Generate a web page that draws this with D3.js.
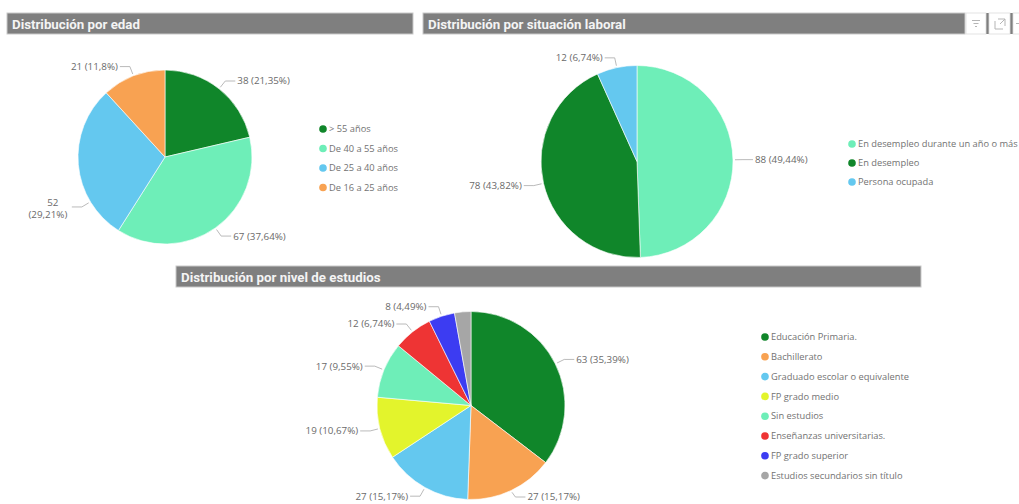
<!DOCTYPE html>
<html>
<head>
<meta charset="utf-8">
<script src="https://cdnjs.cloudflare.com/ajax/libs/d3/7.8.5/d3.min.js"></script>
<style>
  html, body { margin: 0; padding: 0; background: #ffffff; }
  svg { display: block; }
</style>
</head>
<body>
<script>
// data
var ageCategories = ["> 55 años", "De 40 a 55 años", "De 25 a 40 años", "De 16 a 25 años"];
var ageValues = [38, 67, 52, 21];
var ageColors = ["#10862a", "#6eeeb8", "#64c8ef", "#f8a252"];

var laborCategories = ["En desempleo durante un año o más", "En desempleo", "Persona ocupada"];
var laborValues = [88, 78, 12];
var laborColors = ["#6eeeb8", "#10862a", "#64c8ef"];

var studyCategories = ["Educación Primaria.", "Bachillerato", "Graduado escolar o equivalente",
    "FP grado medio", "Sin estudios", "Enseñanzas universitarias.", "FP grado superior",
    "Estudios secundarios sin título"];
var studyValues = [63, 27, 27, 19, 17, 12, 8, 5];
var studyColors = ["#10862a", "#f8a252", "#64c8ef", "#e3f42c", "#6eeeb8", "#ee3434", "#3c3cf2", "#a6a6a6"];

const W = 1019, H = 504;
const LABEL_FONT = "'Open Sans', sans-serif";

var svg = d3.select("body").append("svg")
    .attr("width", W)
    .attr("height", H)
    .attr("font-family", LABEL_FONT);

function titleBar(x, y, w, text){
    var g = svg.append("g").attr("transform", "translate(" + x + "," + y + ")");
    g.append("rect")
        .attr("width", w).attr("height", 21)
        .attr("fill", "#7f7f7f")
        .attr("stroke", "#c9c9c9")
        .attr("stroke-width", 1);
    g.append("text")
        .attr("x", 5).attr("y", 15.5)
        .attr("font-family", "Roboto, sans-serif")
        .attr("font-weight", "bold")
        .attr("font-size", "13.3px")
        .attr("fill", "#f4f4f4")
        .text(text);
}

function formatPct(v){
    var s = d3.format(".2f")(v).replace(/0+$/, "").replace(/\.$/, "");
    return s.replace(".", ",") + "%";
}

// draws one pie with its leader-line labels and legend
function drawPie(opts){
    var values = opts.values, total = d3.sum(values);
    var items = values.map(function(v, i){
        return { name: opts.categories[i], value: v, color: opts.colors[i], i: i };
    });

    var pie = d3.pie().sort(null).value(function(d){ return d.value; });
    var arc = d3.arc().innerRadius(0).outerRadius(opts.r);
    var arcs = pie(items);

    var g = svg.append("g")
        .attr("transform", "translate(" + opts.cx + "," + opts.cy + ")");

    g.selectAll("path.slice")
        .data(arcs)
        .enter().append("path")
            .attr("class", "slice")
            .attr("d", arc)
            .attr("fill", function(d){ return d.data.color; })
            .attr("stroke", "#ffffff")
            .attr("stroke-width", 0.6);

    // tiny slices get no label, like the original
    var labels = arcs.filter(function(d){ return d.data.value / total >= 0.03; });
    var over = opts.labelAngle || {};
    var maxY = H - 7 - opts.cy;

    var lab = g.selectAll("g.label")
        .data(labels)
        .enter().append("g")
            .attr("class", "label");

    lab.each(function(d){
        var a = over[d.data.i] !== undefined ? over[d.data.i] * Math.PI / 180 : (d.startAngle + d.endAngle) / 2;
        var sx = Math.sin(a), sy = -Math.cos(a);
        var right = sx >= 0;
        var r1 = opts.r + 2, r2 = opts.r + 10;
        var p1 = [sx * r1, sy * r1], p2 = [sx * r2, Math.min(sy * r2, maxY)];
        var p3 = [p2[0] + (right ? 10 : -10), p2[1]];
        var sel = d3.select(this);
        sel.append("path")
            .attr("d", d3.line()([p1, p2, p3]))
            .attr("fill", "none")
            .attr("stroke", "#a8a8a8")
            .attr("stroke-width", 0.8);
        var pct = "(" + formatPct(d.data.value / total * 100) + ")";
        var tx = p3[0] + (right ? 2 : -2);
        if(opts.wrap && opts.wrap.indexOf(d.data.i) >= 0){
            var t = sel.append("text")
                .attr("text-anchor", "middle")
                .attr("font-size", "9.8px")
                .attr("fill", "#6a6a6a");
            t.append("tspan").attr("x", tx - 17).attr("y", p3[1] - 1).text(d.data.value);
            t.append("tspan").attr("x", tx - 22).attr("y", p3[1] + 11).text(pct);
        } else {
            sel.append("text")
                .attr("x", tx)
                .attr("y", p3[1])
                .attr("dy", "0.35em")
                .attr("text-anchor", right ? "start" : "end")
                .attr("font-size", "9.8px")
                .attr("fill", "#6a6a6a")
                .text(d.data.value + " " + pct);
        }
    });

    // legend
    var leg = svg.append("g")
        .attr("transform", "translate(" + opts.legendX + "," + opts.legendY + ")");
    var row = leg.selectAll("g.row")
        .data(items)
        .enter().append("g")
            .attr("class", "row")
            .attr("transform", function(d, i){ return "translate(0," + (i * opts.legendStep) + ")"; });
    row.append("circle")
        .attr("r", 3.8)
        .attr("fill", function(d){ return d.color; });
    row.append("text")
        .attr("x", 6)
        .attr("dy", "0.35em")
        .attr("font-size", "9.3px")
        .attr("fill", "#727272")
        .text(function(d){ return d.name; });
}

titleBar(7, 13, 406, "Distribución por edad");
titleBar(423, 13, 542, "Distribución por situación laboral");
titleBar(176, 266, 745, "Distribución por nivel de estudios");

// visual header icons (filter / focus / more)
var icons = svg.append("g");
icons.append("rect").attr("x", 986).attr("y", 13).attr("width", 3).attr("height", 21).attr("fill", "#7f7f7f");
icons.append("rect").attr("x", 1010).attr("y", 13).attr("width", 3).attr("height", 21).attr("fill", "#7f7f7f");
icons.selectAll("rect.box")
    .data([[966, 20], [989, 21], [1013, 8]])
    .enter().append("rect")
        .attr("class", "box")
        .attr("x", function(d){ return d[0]; }).attr("y", 13)
        .attr("width", function(d){ return d[1]; }).attr("height", 21)
        .attr("fill", "#ffffff").attr("stroke", "#dddddd").attr("stroke-width", 0.8);
icons.append("path")
    .attr("d", "M972,20.5h8M973.5,23.5h5M975,26.5h2")
    .attr("stroke", "#b5b5b5").attr("stroke-width", 1);
icons.append("path")
    .attr("d", "M995,21v8h8M998,19h7v7M1000,24l5,-5")
    .attr("fill", "none").attr("stroke", "#b5b5b5").attr("stroke-width", 1);
icons.append("path")
    .attr("d", "M1016,23.5h3")
    .attr("stroke", "#b5b5b5").attr("stroke-width", 1);

drawPie({
    categories: ageCategories, values: ageValues, colors: ageColors,
    cx: 165, cy: 157, r: 87,
    labelAngle: { 2: 239 }, wrap: [2],
    legendX: 323, legendY: 129, legendStep: 19.5
});

drawPie({
    categories: laborCategories, values: laborValues, colors: laborColors,
    cx: 637, cy: 161.5, r: 96,
    legendX: 852, legendY: 144, legendStep: 19
});

drawPie({
    categories: studyCategories, values: studyValues, colors: studyColors,
    cx: 471, cy: 405.5, r: 94,
    legendX: 765, legendY: 337, legendStep: 19.8
});
</script>
</body>
</html>
